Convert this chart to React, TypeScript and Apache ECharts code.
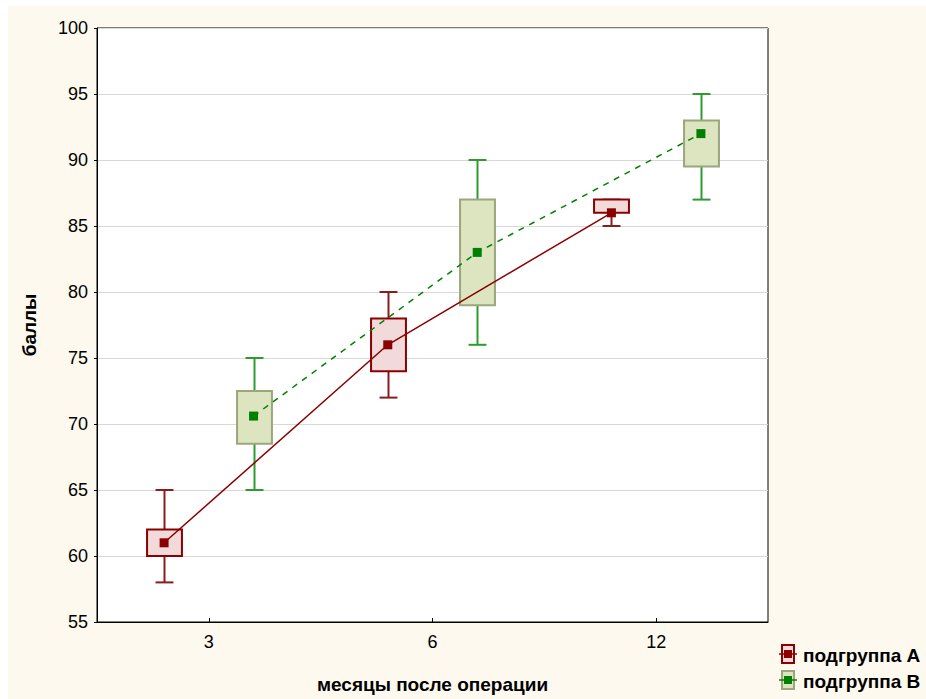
import React, { useEffect, useRef } from "react";
import * as echarts from "echarts";

const months = ["3", "6", "12"];
const yTicks = { min: 55, max: 100, step: 5 };
const groupA_low = [58, 72, 85];
const groupA_q1 = [60, 74, 86];
const groupA_mean = [61, 76, 86];
const groupA_q3 = [62, 78, 87];
const groupA_high = [65, 80, 87];

const groupB_low = [65, 76, 87];
const groupB_q1 = [68.5, 79, 89.5];
const groupB_mean = [70.6, 83, 92];
const groupB_q3 = [72.5, 87, 93];
const groupB_high = [75, 90, 95];

const seriesNames = ["подгруппа A", "подгруппа B"];
const xTitle = "месяцы после операции";
const yTitle = "баллы";

const OFFSET = 0.2;
const FONT = "Arial, 'Liberation Sans', sans-serif";

const styleA = { stroke: "#8b0000", fill: "#f3dada", whisker: "#8b1c1c", mean: "#8b0000" };
const styleB = { stroke: "#9aa67c", fill: "#dce5bf", whisker: "#2f9a2f", mean: "#008000" };

function buildData(low: number[], q1: number[], mean: number[], q3: number[], high: number[], shift: number) {
  return months.map((_, i) => [i + shift, low[i], q1[i], mean[i], q3[i], high[i]]);
}

function boxRender(st: any) {
  return (params: any, api: any) => {
    const x = api.value(0);
    const pLow = api.coord([x, api.value(1)]);
    const pQ1 = api.coord([x, api.value(2)]);
    const pQ3 = api.coord([x, api.value(4)]);
    const pHigh = api.coord([x, api.value(5)]);
    const bw = api.size([0.156, 0])[0];
    const cw = api.size([0.08, 0])[0];
    const cx = Math.round(pQ1[0]) + 0.5;
    return {
      type: "group",
      children: [
        { type: "line", shape: { x1: cx, y1: pHigh[1], x2: cx, y2: pQ3[1] }, style: { stroke: st.whisker, lineWidth: 2 } },
        { type: "line", shape: { x1: cx, y1: pQ1[1], x2: cx, y2: pLow[1] }, style: { stroke: st.whisker, lineWidth: 2 } },
        { type: "line", shape: { x1: cx - cw / 2, y1: pHigh[1], x2: cx + cw / 2, y2: pHigh[1] }, style: { stroke: st.whisker, lineWidth: 2 } },
        { type: "line", shape: { x1: cx - cw / 2, y1: pLow[1], x2: cx + cw / 2, y2: pLow[1] }, style: { stroke: st.whisker, lineWidth: 2 } },
        {
          type: "rect",
          shape: { x: cx - bw / 2, y: pQ3[1], width: bw, height: pQ1[1] - pQ3[1] },
          style: { fill: st.fill, stroke: st.stroke, lineWidth: 2 },
        },
      ],
    };
  };
}

function legendItem(y: number, st: any, label: string) {
  const x = 780;
  return {
    type: "group",
    children: [
      { type: "rect", shape: { x: x - 6, y: y - 9, width: 12, height: 18 }, style: { fill: st.fill, stroke: st.stroke, lineWidth: 2 } },
      { type: "line", shape: { x1: x - 9, y1: y, x2: x + 9, y2: y }, style: { stroke: st.mean, lineWidth: 1.5 } },
      { type: "rect", shape: { x: x - 4, y: y - 4, width: 8, height: 8 }, style: { fill: st.mean } },
      { type: "text", x: 795, y: y + 1, style: { text: label, font: `bold 19px ${FONT}`, fill: "#000", textVerticalAlign: "middle" } },
    ],
  };
}

export default function App() {
  const ref = useRef<HTMLDivElement>(null);
  useEffect(() => {
    const chart = echarts.init(ref.current!, null, { renderer: "svg" });
    chart.setOption({
      animation: false,
      backgroundColor: "#fdf9ee",
      grid: { left: 89, top: 22, right: 158, bottom: 77, show: true, backgroundColor: "#ffffff", borderColor: "#000", borderWidth: 1 },
      xAxis: [
        {
          type: "category",
          data: months,
          boundaryGap: true,
          axisLine: { onZero: false, lineStyle: { color: "#000", width: 1 } },
          axisTick: { show: true, alignWithLabel: true, inside: true, length: 4, lineStyle: { color: "#000" } },
          axisLabel: { color: "#000", fontSize: 18, fontFamily: FONT, margin: 11 },
          name: xTitle,
          nameLocation: "middle",
          nameGap: 53,
          nameTextStyle: { color: "#000", fontSize: 19, fontWeight: "bold", fontFamily: FONT },
          splitLine: { show: false },
        },
        { type: "value", min: -0.5, max: 2.5, show: false, splitLine: { show: false } },
      ],
      yAxis: {
        type: "value",
        min: yTicks.min,
        max: yTicks.max,
        interval: yTicks.step,
        axisLine: { show: true, onZero: false, lineStyle: { color: "#000", width: 1 } },
        axisTick: { show: true, length: 3, lineStyle: { color: "#000" } },
        axisLabel: { color: "#000", fontSize: 18, fontFamily: FONT, margin: 9 },
        splitLine: { show: true, lineStyle: { color: "#d8d8d8", width: 1 } },
        name: yTitle,
        nameLocation: "middle",
        nameGap: 58,
        nameRotate: 90,
        nameTextStyle: { color: "#000", fontSize: 19, fontWeight: "bold", fontFamily: FONT },
      },
      series: [
        {
          type: "custom",
          xAxisIndex: 1,
          renderItem: boxRender(styleA),
          data: buildData(groupA_low, groupA_q1, groupA_mean, groupA_q3, groupA_high, -OFFSET),
          encode: { x: 0, y: [1, 5] },
          z: 2,
        },
        {
          type: "custom",
          xAxisIndex: 1,
          renderItem: boxRender(styleB),
          data: buildData(groupB_low, groupB_q1, groupB_mean, groupB_q3, groupB_high, OFFSET),
          encode: { x: 0, y: [1, 5] },
          z: 2,
        },
        {
          name: seriesNames[0],
          type: "line",
          xAxisIndex: 1,
          data: groupA_mean.map((v, i) => [i - OFFSET, v]),
          symbol: "rect",
          symbolSize: 9,
          lineStyle: { color: styleA.mean, width: 1.5 },
          itemStyle: { color: styleA.mean },
          z: 3,
        },
        {
          name: seriesNames[1],
          type: "line",
          xAxisIndex: 1,
          data: groupB_mean.map((v, i) => [i + OFFSET, v]),
          symbol: "rect",
          symbolSize: 9,
          lineStyle: { color: styleB.mean, width: 1.5, type: [6, 6] },
          itemStyle: { color: styleB.mean },
          z: 3,
        },
      ],
      graphic: [legendItem(648, styleA, seriesNames[0]), legendItem(674, styleB, seriesNames[1])],
    });
    return () => chart.dispose();
  }, []);
  return <div ref={ref} style={{ position: "absolute", left: 8, top: 6, width: 918, height: 693 }} />;
}
